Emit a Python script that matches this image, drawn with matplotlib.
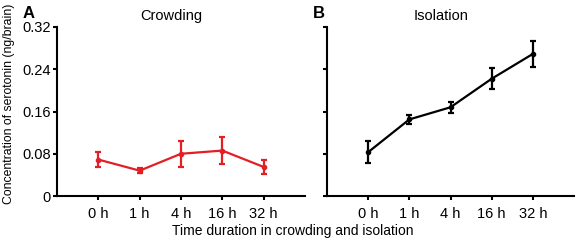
import matplotlib.pyplot as plt
import numpy as np

plt.rcParams['font.family'] = ['Liberation Sans', 'DejaVu Sans']

# Data
time_labels = ['0 h', '1 h', '4 h', '16 h', '32 h']
crowding_mean = [0.069, 0.048, 0.080, 0.086, 0.055]
crowding_err = [0.014, 0.005, 0.025, 0.025, 0.013]
isolation_mean = [0.083, 0.145, 0.168, 0.222, 0.269]
isolation_err = [0.021, 0.008, 0.010, 0.020, 0.024]

red = '#e31e24'

fig = plt.figure(figsize=(5.77, 2.42), dpi=100)
axA = fig.add_axes([57 / 577, 1 - 196 / 242, 248 / 577, 169 / 242])
axB = fig.add_axes([327 / 577, 1 - 196 / 242, 247 / 577, 169 / 242])

x = np.arange(1, len(time_labels) + 1)

for ax, mean, err, color, title in [
    (axA, crowding_mean, crowding_err, red, 'Crowding'),
    (axB, isolation_mean, isolation_err, 'black', 'Isolation'),
]:
    ax.errorbar(x, mean, yerr=err, color=color, lw=1.6, marker='o', ms=3,
                capsize=2.5, capthick=1.6, elinewidth=1.6)
    ax.set_xlim(0, 6)
    ax.set_ylim(0, 0.32)
    ax.set_yticks([0, 0.08, 0.16, 0.24, 0.32])
    ax.set_xticks(x)
    ax.set_xticklabels(time_labels, fontsize=10.5)
    for spine in ['top', 'right']:
        ax.spines[spine].set_visible(False)
    for spine in ['left', 'bottom']:
        ax.spines[spine].set_linewidth(1.5)
    ax.tick_params(width=1.5, length=3, labelsize=10.5, pad=1.5)
    ax.tick_params(axis='x', length=3, pad=5)
    ax.set_title(title, fontsize=10.5, x=0.46, pad=5)

axA.set_yticklabels(['0', '0.08', '0.16', '0.24', '0.32'])
axB.set_yticklabels([])
axA.set_ylabel('Concentration of serotonin (ng/brain)', fontsize=8.8)
axA.yaxis.set_label_coords(-0.17, 0.545)

fig.text(23 / 577, 1 - 6 / 242, 'A', fontsize=12, fontweight='bold', va='top')
fig.text(313 / 577, 1 - 6 / 242, 'B', fontsize=12, fontweight='bold', va='top')
fig.text(293 / 577, 11 / 242, 'Time duration in crowding and isolation',
         fontsize=10, ha='center', va='center')

fig.savefig('out.png', dpi=100)
